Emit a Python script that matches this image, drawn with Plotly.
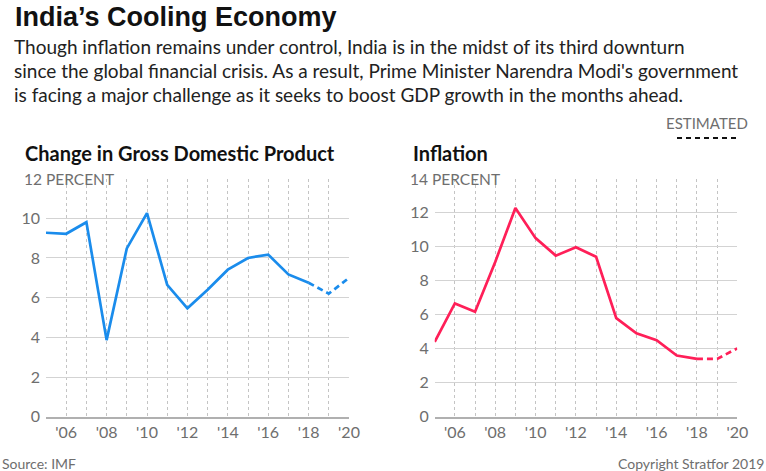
import plotly.graph_objects as go

W, H = 766, 471

years = list(range(2005, 2021))
gdp = [9.27, 9.22, 9.8, 3.86, 8.48, 10.26, 6.64, 5.46, 6.4, 7.41, 8.0, 8.17, 7.17, 6.75, 6.2, 7.0]
inflation = [4.4, 6.66, 6.17, 9.1, 12.27, 10.5, 9.47, 9.96, 9.4, 5.8, 4.9, 4.5, 3.6, 3.4, 3.4, 4.02]
estimated_from = 2018
tick_years = years
tick_text = ["'%02d" % (y % 100) if y % 2 == 0 else "" for y in years]
gdp_ticks = [0, 2, 4, 6, 8, 10]
infl_ticks = [0, 2, 4, 6, 8, 10, 12]

BLUE = "#1a8cec"
PINK = "#ff1f58"
GRAY = "#6e6e6e"
FONT = "Lato, 'Open Sans', Roboto, sans-serif"
TITLE_FONT = "'Liberation Sans', Arial, sans-serif"

def px(x):
    return x / W

def py(y):
    return 1 - y / H

def split(vals):
    solid_x = [y for y in years if y <= estimated_from]
    solid_y = [v for y, v in zip(years, vals) if y <= estimated_from]
    dash_x = [y for y in years if y >= estimated_from]
    dash_y = [v for y, v in zip(years, vals) if y >= estimated_from]
    return solid_x, solid_y, dash_x, dash_y

fig = go.Figure()

for vals, color, xa, ya in [(gdp, BLUE, "x", "y"), (inflation, PINK, "x2", "y2")]:
    sx, sy, dx, dy = split(vals)
    fig.add_trace(go.Scatter(x=sx, y=sy, mode="lines", xaxis=xa, yaxis=ya,
                             line=dict(color=color, width=2.7), hoverinfo="skip"))
    fig.add_trace(go.Scatter(x=dx, y=dy, mode="lines", xaxis=xa, yaxis=ya,
                             line=dict(color=color, width=2.7, dash="6px,4px"), hoverinfo="skip"))

ydom = [py(416.7), py(178.6)]

def xaxis_cfg(dom):
    return dict(domain=dom, range=[2005, 2020], tickvals=tick_years, ticktext=tick_text,
                showgrid=True, gridcolor="#c4c4c4", griddash="dot", gridwidth=1,
                showline=True, linecolor="#b0b0b0", linewidth=1.5, ticks="",
                zeroline=False, tickfont=dict(family=FONT, size=16, color=GRAY),
                ticklabelstandoff=0, fixedrange=True, automargin=False)

def yaxis_cfg(dom, rng, tv, anchor):
    return dict(domain=dom, range=rng, tickvals=tv, showgrid=True, gridcolor="#d3d3d3",
                gridwidth=1, zeroline=False, showline=False, ticks="", anchor=anchor,
                tickfont=dict(family=FONT, size=16, color=GRAY), ticklabelstandoff=5,
                fixedrange=True, automargin=False)

fig.update_layout(
    width=W, height=H,
    margin=dict(l=0, r=0, t=0, b=0, autoexpand=False),
    paper_bgcolor="white", plot_bgcolor="white",
    showlegend=False,
    xaxis=xaxis_cfg([px(46), px(349)]),
    yaxis=yaxis_cfg(ydom, [0, 12], gdp_ticks, "x"),
    xaxis2=dict(xaxis_cfg([px(434.7), px(737.3)]), anchor="y2"),
    yaxis2=yaxis_cfg(ydom, [0, 14], infl_ticks, "x2"),
)

def ann(text, x, y, size, color="#1a1a1a", bold=False, xanchor="left", yanchor="middle",
        family=FONT):
    fig.add_annotation(text=("<b>%s</b>" % text) if bold else text, x=px(x), y=py(y),
                       xref="paper", yref="paper", xanchor=xanchor, yanchor=yanchor,
                       align=xanchor if xanchor in ("left", "right") else "center",
                       borderpad=0, showarrow=False,
                       font=dict(family=family, size=size, color=color))

ann("India’s Cooling Economy", 14, 0.5, 27, color="#111111", bold=True, yanchor="top",
    family=TITLE_FONT)
subtitle = [
    "Though inflation remains under control, India is in the midst of its third downturn",
    "since the global financial crisis. As a result, Prime Minister Narendra Modi's government",
    "is facing a major challenge as it seeks to boost GDP growth in the months ahead.",
]
for i, line in enumerate(subtitle):
    ann(line, 13, 47 + 24 * i, 19, color="#222222")

ann("Change in Gross Domestic Product", 24, 152.5, 20, color="#111111", bold=True)
ann("Inflation", 412, 152.5, 20, color="#111111", bold=True)
ann("12 PERCENT", 23, 179, 15.5, color=GRAY)
ann("14 PERCENT", 409, 179, 15.5, color=GRAY)
ann("ESTIMATED", 749, 123, 15, color=GRAY, xanchor="right")
ann("Source: IMF", 1, 463, 14, color=GRAY)
ann("Copyright Stratfor 2019", 765, 463, 14, color=GRAY, xanchor="right")

fig.add_shape(type="line", xref="paper", yref="paper", x0=px(677), x1=px(736),
              y0=py(138), y1=py(138), line=dict(color="#111111", width=2, dash="5px,4px"))

fig.write_html("out.html")
